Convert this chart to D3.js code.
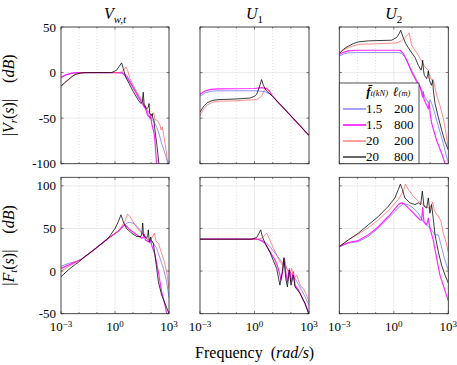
<!DOCTYPE html>
<html>
<head>
<meta charset="utf-8">
<script src="https://cdn.jsdelivr.net/npm/d3@7"></script>
<style>
  body { margin: 0; background: #fff; }
  svg { display: block; }
  text { font-family: "Liberation Serif", "DejaVu Serif", serif; fill: #000; }
</style>
</head>
<body>
<svg id="fig" width="457" height="365"></svg>
<script>
// each point is [log10(freq in rad/s), magnitude in dB]

// |Vr(s)| due to V_w,t
var vrVwtBlue = [[-3,-5.5],[-2.7,-2.5],[-2.4,-0.8],[-2,-0.1],[0,0],[0.46,-0.3],[0.65,-3],[0.82,-9],[1.02,-16],[1.2,-22],[1.39,-28.5],[1.55,-33],[1.67,-38],[1.8,-43],[1.94,-49],[2.08,-52],[2.22,-56],[2.32,-60],[2.41,-65],[2.5,-71],[2.59,-78],[2.7,-84],[2.78,-89],[2.86,-94],[2.93,-100]]
var vrVwtMagenta = [[-3,-5],[-2.7,-2.2],[-2.4,-0.6],[-2,0],[0,0],[0.4,-0.5],[0.65,-5],[0.93,-14],[1.1,-20],[1.3,-27],[1.45,-32],[1.52,-34],[1.58,-36],[1.63,-38.5],[1.66,-36],[1.7,-40],[1.81,-47],[1.88,-48],[1.94,-50.5],[1.98,-47],[2.04,-56],[2.13,-63],[2.2,-70],[2.31,-100]]
var vrVwtRed = [[-3,-15.7],[-2.8,-11.5],[-2.6,-8.4],[-2.4,-4.8],[-2.2,-2],[-1.85,-0.3],[-1.5,0],[0.19,0],[0.37,0.7],[0.5,3.3],[0.61,6.2],[0.7,2.6],[0.83,-6.6],[1.11,-17.6],[1.39,-26.7],[1.57,-33],[1.76,-39.6],[1.94,-45],[2.07,-47],[2.15,-44],[2.22,-52],[2.31,-52],[2.41,-54],[2.5,-58],[2.56,-63],[2.63,-59.7],[2.7,-68],[2.78,-78],[2.86,-88],[2.93,-100]]
var vrVwtBlack = [[-3,-15],[-2.8,-11],[-2.6,-7.8],[-2.4,-4.5],[-2.2,-2],[-1.85,-0.3],[-1.5,0],[-0.19,0],[0.09,2.6],[0.24,7],[0.37,10.6],[0.46,4.4],[0.59,-4.8],[0.78,-12],[1.02,-21],[1.3,-30.4],[1.44,-34],[1.52,-32],[1.57,-21.6],[1.62,-36],[1.76,-39.6],[1.86,-38],[1.89,-34],[1.93,-45],[2.02,-47],[2.07,-45],[2.1,-50],[2.16,-52],[2.22,-63],[2.33,-80],[2.44,-100]]

// |Vr(s)| due to U1
var vrU1Blue = [[-3,-26],[-2.7,-22],[-2.4,-20.5],[-2,-20],[0,-20],[0.3,-20.3],[0.58,-21],[0.85,-23.5],[1,-26.2],[2,-47.5],[3,-69]]
var vrU1Magenta = [[-3,-23.8],[-2.7,-20],[-2.4,-18.5],[-2,-18],[0,-17.5],[0.39,-16.5],[0.67,-17.6],[0.85,-21],[1,-26.2],[2,-47.5],[3,-69]]
var vrU1Red = [[-3,-47],[-2.8,-40],[-2.6,-35.5],[-2.3,-32.5],[-2,-31.5],[-1,-31],[0.12,-29.7],[0.39,-26],[0.54,-19.4],[0.67,-16.5],[0.8,-20],[0.94,-25],[1,-26.2],[2,-47.5],[3,-69]]
var vrU1Black = [[-3,-43.5],[-2.8,-37],[-2.6,-33],[-2.3,-30.5],[-2,-29.7],[-1,-29],[-0.25,-28],[0,-26],[0.12,-23.8],[0.27,-15.7],[0.39,-7.7],[0.49,-14],[0.63,-19.4],[0.8,-22.5],[1,-26.2],[2,-47.5],[3,-69]]

// |Vr(s)| due to U2
var vrU2Blue = [[-3,18],[-2.75,20.5],[-2.5,21.6],[-2,22],[0.25,22],[0.43,21],[0.61,17],[0.89,6],[1.17,-4.8],[1.44,-15.7],[1.59,-21],[1.72,-27],[1.9,-33],[2,-30],[2.09,-34],[2.23,-43],[2.36,-52.5],[2.54,-65],[2.73,-78],[2.91,-93],[3,-98]]
var vrU2Magenta = [[-3,19.8],[-2.75,22.5],[-2.5,23.8],[-2,24.5],[0.34,24.5],[0.52,21],[0.71,13.5],[0.98,0.7],[1.26,-10],[1.44,-15],[1.59,-27],[1.62,-21],[1.66,-29],[1.9,-40],[1.95,-32.5],[2,-45],[2.09,-56],[2.36,-74.5],[2.64,-89],[2.82,-100]]
var vrU2Red = [[-3,21],[-2.75,25],[-2.5,27.5],[-1.95,31],[-1,31.5],[0.16,32.6],[0.43,34.8],[0.7,40],[0.85,43.5],[0.98,30],[1.17,24],[1.35,19],[1.55,12],[1.72,6],[1.9,2.6],[1.95,-1.5],[2.08,-8.4],[2.15,-7],[2.23,-12.4],[2.36,-25],[2.54,-36],[2.73,-50.7],[2.86,-65],[3,-83]]
var vrU2Black = [[-3,21],[-2.75,26],[-2.5,29],[-2.2,32],[-1.95,33.7],[-1.4,34.8],[-0.12,35.5],[0.16,38.5],[0.3,42.9],[0.38,46.5],[0.49,40],[0.65,32],[0.89,24.5],[1.17,16.5],[1.35,8],[1.5,2.6],[1.56,8],[1.59,13.5],[1.64,2],[1.68,-3],[1.81,-6.6],[1.87,-2],[1.9,1.8],[1.94,-6],[1.99,-10],[2.08,-14],[2.14,-8.4],[2.18,-20],[2.27,-34],[2.45,-49],[2.64,-63.5],[2.82,-76],[3,-85]]

// |Ft(s)| due to V_w,t
var ftVwtBlue = [[-3,5.5],[-2.6,9],[-2.2,11],[-1.85,14],[-1.11,26],[-0.37,38.6],[0.19,47],[0.46,52],[0.65,56.3],[0.83,57.5],[1.11,55],[1.39,48.4],[1.57,42.5],[1.76,38.6],[1.94,32.7],[2.05,35],[2.13,32.7],[2.31,26.8],[2.5,15],[2.69,3],[2.87,-12.6],[3,-31]]
var ftVwtMagenta = [[-3,3],[-2.6,7],[-2.04,12],[-1.85,14],[-1.11,26],[-0.37,38.6],[0.19,47],[0.46,53.5],[0.56,54.3],[0.83,48.4],[1.2,42.5],[1.48,38.6],[1.58,40],[1.63,43],[1.68,36.6],[1.89,34],[1.98,36.6],[2.04,30],[2.07,28.7],[2.22,19],[2.41,-0.8],[2.59,-24],[2.78,-40],[2.87,-50]]
var ftVwtRed = [[-3,0],[-2.6,5],[-2.04,12],[-1.85,14],[-1.11,26],[-0.37,38.6],[0.19,47],[0.37,52],[0.56,59],[0.7,67],[0.83,64],[1.11,54],[1.39,46.5],[1.63,40.6],[1.85,36.6],[2.04,38.6],[2.19,44.5],[2.28,34.6],[2.41,32.7],[2.56,22.8],[2.74,11],[2.87,-0.8],[3,-20.5]]
var ftVwtBlack = [[-3,-6.7],[-2.6,1.2],[-2.2,8],[-2.04,10],[-1.85,14],[-1.11,26],[-0.37,38.6],[0,50],[0.19,58],[0.33,66],[0.46,58],[0.65,49.6],[0.93,44.5],[1.2,40.6],[1.44,40.6],[1.5,45],[1.54,56.3],[1.58,42],[1.76,38.6],[1.82,42],[1.85,48.4],[1.9,36],[1.93,34.6],[1.98,40],[2.02,36],[2.13,32.7],[2.22,19],[2.41,-12.6],[2.59,-28],[2.78,-38],[3,-50]]

// |Ft(s)| due to U1
var ftU1Blue = [[-3,37.4],[0,37.4],[0.3,36.6],[0.58,34.6],[0.85,28.7],[1.13,20.9],[1.5,11],[1.77,3],[1.95,-0.8],[2.23,-8.7],[2.5,-18.5],[2.78,-30],[3,-40]]
var ftU1Magenta = [[-3,37.4],[0.21,37.4],[0.39,35.4],[0.58,32.7],[0.85,22.8],[1.13,13],[1.31,3],[1.4,-4.7],[1.46,-10.6],[1.55,-0.8],[1.64,15],[1.72,-0.8],[1.81,-12.6],[1.92,3],[2.01,-12.6],[2.14,-0.8],[2.23,-16.5],[2.41,-22],[2.6,-30],[2.78,-38],[3,-50]]
var ftU1Red = [[-3,37.4],[0.21,37.4],[0.39,38.6],[0.58,42.5],[0.67,44.5],[0.8,38.6],[1.04,26.8],[1.31,15],[1.53,7],[1.64,14],[1.77,3],[1.95,-2.8],[2.05,3],[2.17,-8.7],[2.32,-4.7],[2.45,-12.6],[2.56,-18.5],[2.69,-20.5],[2.82,-26],[3,-36]]
var ftU1Black = [[-3,37.4],[-0.16,37.4],[0.12,39.4],[0.25,44.5],[0.34,48.4],[0.43,40.6],[0.58,32.7],[0.85,22],[1.22,3],[1.4,-16.5],[1.53,-0.8],[1.62,15.7],[1.72,-8.7],[1.81,-18.5],[1.92,1.2],[2.01,-16.5],[2.14,-4.7],[2.23,-18.5],[2.5,-26],[2.78,-38],[3,-51]]

// |Ft(s)| due to U2
var ftU2Blue = [[-3,28.7],[-2.5,32.7],[-1.95,34.6],[-1.4,40.6],[-0.85,50.4],[-0.3,62],[0.25,74],[0.52,79],[0.8,78],[1.07,74],[1.35,68],[1.62,58],[1.9,52],[2.08,48.4],[2.27,42.5],[2.45,42.5],[2.6,30.7],[2.78,15],[3,1]]
var ftU2Magenta = [[-3,28.7],[-2.5,33.5],[-1.95,35.8],[-1.4,42.5],[-0.85,52],[-0.3,64],[0.25,78],[0.43,80],[0.61,78],[0.89,72],[1.26,64],[1.44,60],[1.53,60],[1.59,74.8],[1.66,58],[1.81,54.3],[1.9,62],[1.99,50.4],[2.17,36.6],[2.36,15],[2.54,-4.7],[2.72,-16.5],[3,-35]]
var ftU2Red = [[-3,28.7],[-2.5,36.6],[-1.95,43.3],[-1.4,51],[-0.85,60],[-0.3,70.9],[0.25,83.9],[0.52,93.7],[0.65,102],[0.8,95.7],[1.07,87.8],[1.35,82],[1.62,78],[1.9,74],[2.05,76],[2.14,81],[2.23,72],[2.36,66],[2.45,65],[2.6,58],[2.72,44.5],[2.87,34.6],[3,22]]
var ftU2Black = [[-3,28.7],[-2.5,36.6],[-1.95,44.5],[-1.4,54.3],[-0.85,64],[-0.3,76],[0.06,85.8],[0.25,95.7],[0.36,102],[0.47,95.7],[0.61,85.8],[0.89,80],[1.17,78],[1.35,80],[1.48,78],[1.57,93.7],[1.66,76],[1.81,74],[1.9,85.8],[1.99,68],[2.08,78],[2.17,62],[2.27,42.5],[2.45,22.8],[2.63,7],[2.82,-4.7],[3,-14]]

var forceLabels = ["1.5", "1.5", "20", "20"]
var lengthLabels = ["200", "800", "200", "800"]
var xTickExps = [-3, 0, 3]
var topTicks = [-100, -50, 0, 50]
var bottomTicks = [-50, 0, 50, 100]

var lineColors = ["#5c5cff", "#ff00ff", "#ff5555", "#000000"]
var lineWidths = [0.8, 1.2, 0.8, 0.9]

var cols = [[61, 169], [200, 309], [339.3, 448.3]]
var rows = [[27, 163.7], [177.3, 313.7]]
var rowDomains = [[-100, 50], [-50, 110]]
var rowTicks = [topTicks, bottomTicks]

var panels = [
  {r: 0, c: 0, lines: [vrVwtBlue, vrVwtMagenta, vrVwtRed, vrVwtBlack]},
  {r: 0, c: 1, lines: [vrU1Blue, vrU1Magenta, vrU1Red, vrU1Black]},
  {r: 0, c: 2, lines: [vrU2Blue, vrU2Magenta, vrU2Red, vrU2Black]},
  {r: 1, c: 0, lines: [ftVwtBlue, ftVwtMagenta, ftVwtRed, ftVwtBlack]},
  {r: 1, c: 1, lines: [ftU1Blue, ftU1Magenta, ftU1Red, ftU1Black]},
  {r: 1, c: 2, lines: [ftU2Blue, ftU2Magenta, ftU2Red, ftU2Black]}
]

var svg = d3.select("#fig")
var axisColor = "#262626"

panels.forEach(function(p, i) {
  var x = d3.scaleLog().domain([1e-3, 1e3]).range(cols[p.c])
  var y = d3.scaleLinear().domain(rowDomains[p.r]).range([rows[p.r][1], rows[p.r][0]])
  var g = svg.append("g")
  var x0 = cols[p.c][0], x1 = cols[p.c][1], y0 = rows[p.r][0], y1 = rows[p.r][1]

  g.append("clipPath").attr("id", "clip" + i)
    .append("rect").attr("x", x0).attr("y", y0).attr("width", x1 - x0).attr("height", y1 - y0)

  // minor grid (every decade, dotted)
  var decades = d3.range(-3, 4)
  g.selectAll(".minor").data(decades.filter(d => d % 3 != 0)).join("line")
    .attr("x1", d => x(Math.pow(10, d))).attr("x2", d => x(Math.pow(10, d)))
    .attr("y1", y0).attr("y2", y1)
    .attr("stroke", "#c8c8c8").attr("stroke-width", 0.6).attr("stroke-dasharray", "1,2")
  // major grid
  g.selectAll(".majx").data(xTickExps).join("line")
    .attr("x1", d => x(Math.pow(10, d))).attr("x2", d => x(Math.pow(10, d)))
    .attr("y1", y0).attr("y2", y1)
    .attr("stroke", "#e3e3e3").attr("stroke-width", 0.7)
  g.selectAll(".majy").data(rowTicks[p.r]).join("line")
    .attr("x1", x0).attr("x2", x1)
    .attr("y1", d => y(d)).attr("y2", d => y(d))
    .attr("stroke", "#e3e3e3").attr("stroke-width", 0.7)

  // curves
  var line = d3.line().x(d => x(Math.pow(10, d[0]))).y(d => y(d[1]))
  g.append("g").attr("clip-path", "url(#clip" + i + ")")
    .selectAll("path").data(p.lines).join("path")
    .attr("d", line)
    .attr("fill", "none")
    .attr("stroke", (d, k) => lineColors[k])
    .attr("stroke-width", (d, k) => lineWidths[k])
    .attr("stroke-opacity", 0.85)
    .attr("stroke-linejoin", "round")

  // ticks (inside, all four sides)
  decades.forEach(function(d) {
    var xx = x(Math.pow(10, d))
    var len = d % 3 == 0 ? 2.5 : 1.5
    g.append("line").attr("x1", xx).attr("x2", xx).attr("y1", y1).attr("y2", y1 - len).attr("stroke", axisColor).attr("stroke-width", 0.6)
    g.append("line").attr("x1", xx).attr("x2", xx).attr("y1", y0).attr("y2", y0 + len).attr("stroke", axisColor).attr("stroke-width", 0.6)
  })
  rowTicks[p.r].forEach(function(t) {
    g.append("line").attr("x1", x0).attr("x2", x0 + 2.5).attr("y1", y(t)).attr("y2", y(t)).attr("stroke", axisColor).attr("stroke-width", 0.6)
    g.append("line").attr("x1", x1).attr("x2", x1 - 2.5).attr("y1", y(t)).attr("y2", y(t)).attr("stroke", axisColor).attr("stroke-width", 0.6)
  })

  g.append("rect").attr("x", x0).attr("y", y0).attr("width", x1 - x0).attr("height", y1 - y0)
    .attr("fill", "none").attr("stroke", axisColor).attr("stroke-width", 0.8)

  // y tick labels on first column
  if (p.c == 0) {
    g.selectAll(".yl").data(rowTicks[p.r]).join("text")
      .attr("x", x0 - 5).attr("y", d => y(d)).attr("dy", "0.35em")
      .attr("text-anchor", "end").attr("font-size", 13)
      .text(d => d)
  }
  // x tick labels on bottom row
  if (p.r == 1) {
    xTickExps.forEach(function(e) {
      var t = g.append("text").attr("x", x(Math.pow(10, e))).attr("y", 331)
        .attr("text-anchor", "middle").attr("font-size", 13)
      t.append("tspan").text("10")
      t.append("tspan").attr("dy", -4.5).attr("font-size", 9).text(e < 0 ? "\u2212" + (-e) : e)
    })
  }
})

// column titles
var titleParts = [["V", "w,t"], ["U", "1"], ["U", "2"]]
titleParts.forEach(function(tp, c) {
  var t = svg.append("text").attr("x", (cols[c][0] + cols[c][1]) / 2).attr("y", 19)
    .attr("text-anchor", "middle").attr("font-size", 16).attr("font-style", "italic")
  t.append("tspan").text(tp[0])
  t.append("tspan").attr("dy", 4).attr("font-size", 11).attr("font-style", c == 0 ? "italic" : "normal").text(tp[1])
})

// y labels
function yLabel(letter, sub, cy) {
  var t = svg.append("text").attr("transform", "translate(14," + cy + ") rotate(-90)")
    .attr("text-anchor", "middle").attr("font-size", 16)
  t.append("tspan").text("|")
  t.append("tspan").attr("font-style", "italic").text(letter)
  t.append("tspan").attr("dy", 3).attr("font-size", 11).attr("font-style", "italic").text(sub)
  t.append("tspan").attr("dy", -3).text("(")
  t.append("tspan").attr("font-style", "italic").text("s")
  t.append("tspan").text(")|\u2003(")
  t.append("tspan").attr("font-style", "italic").text("dB")
  t.append("tspan").text(")")
}
yLabel("V", "r", (rows[0][0] + rows[0][1]) / 2)
yLabel("F", "t", (rows[1][0] + rows[1][1]) / 2)

// x label
var xl = svg.append("text").attr("x", (cols[0][0] + cols[2][1]) / 2).attr("y", 358)
  .attr("text-anchor", "middle").attr("font-size", 16)
xl.append("tspan").text("Frequency\u2002(")
xl.append("tspan").attr("font-style", "italic").text("rad/s")
xl.append("tspan").text(")")

// legend
var lg = svg.append("g")
var lx0 = cols[2][0], lx1 = 419, ly0 = 83, ly1 = rows[0][1]
lg.append("rect").attr("x", lx0).attr("y", ly0).attr("width", lx1 - lx0).attr("height", ly1 - ly0)
  .attr("fill", "#fff").attr("stroke", axisColor).attr("stroke-width", 0.8)
var h1 = lg.append("text").attr("x", 388).attr("y", 96).attr("text-anchor", "end").attr("font-size", 13).attr("font-style", "italic")
h1.append("tspan").attr("font-weight", "bold").text("f\u0304")
h1.append("tspan").attr("font-size", 8.5).text("t(kN)")
var h2 = lg.append("text").attr("x", 393).attr("y", 96).attr("font-size", 13).attr("font-style", "italic")
h2.append("tspan").attr("font-weight", "bold").text("\u2113")
h2.append("tspan").attr("font-size", 8.5).text("(m)")
var rowY = [113, 129, 145, 161]
lg.selectAll(".ls").data(rowY).join("line")
  .attr("x1", 343).attr("x2", 366).attr("y1", d => d - 4).attr("y2", d => d - 4)
  .attr("stroke", (d, k) => lineColors[k]).attr("stroke-width", (d, k) => lineWidths[k] + 0.3)
lg.selectAll(".lf").data(rowY).join("text")
  .attr("x", 366).attr("y", d => d).attr("font-size", 13)
  .text((d, k) => forceLabels[k])
lg.selectAll(".ll").data(rowY).join("text")
  .attr("x", 394).attr("y", d => d).attr("font-size", 13)
  .text((d, k) => lengthLabels[k])
</script>
</body>
</html>
